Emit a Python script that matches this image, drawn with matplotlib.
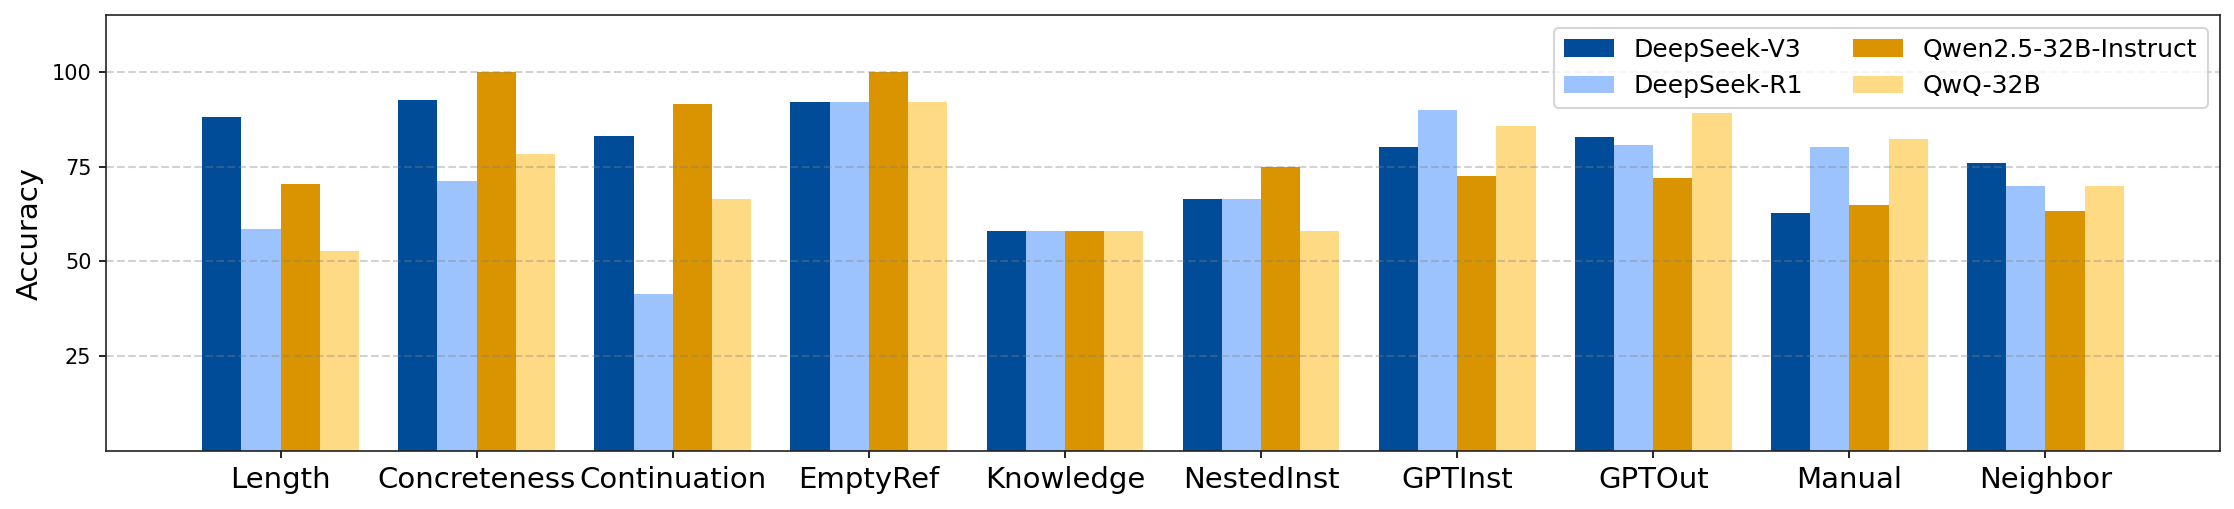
import numpy as np
import matplotlib as mpl

mpl.use("agg")

import matplotlib.pyplot as plt

categories = ['Length', 'Concreteness', 'Continuation', 'EmptyRef', 'Knowledge',
              'NestedInst', 'GPTInst', 'GPTOut', 'Manual', 'Neighbor']
models = ['DeepSeek-V3', 'DeepSeek-R1', 'Qwen2.5-32B-Instruct', 'QwQ-32B']

deepseek_v3 = [88.1, 92.6, 83.1, 92.1, 58.0, 66.5, 80.2, 82.8, 62.8, 76.0]
deepseek_r1 = [58.5, 71.2, 41.4, 92.1, 58.0, 66.5, 90.0, 80.7, 80.2, 69.9]
qwen_instruct = [70.4, 100.0, 91.5, 100.0, 58.0, 75.0, 72.5, 72.0, 64.9, 63.3]
qwq_32b = [52.7, 78.3, 66.5, 92.1, 58.0, 58.0, 85.7, 89.2, 82.3, 69.9]

colors = ['#004c99', '#9dc3fe', '#d99400', '#ffda85']

series = [deepseek_v3, deepseek_r1, qwen_instruct, qwq_32b]

fig = plt.figure(figsize=(2234 / 150, 509 / 150), dpi=150)
ax = fig.add_axes([106 / 2234, 1 - 451 / 509, (2220 - 106) / 2234, (451 - 15) / 509])

x = np.arange(len(categories))
width = 0.2
for i, (vals, name) in enumerate(zip(series, models)):
    ax.bar(x + (i - 1.5) * width, vals, width, label=name, color=colors[i])

ax.set_xticks(x)
ax.set_xticklabels(categories, fontsize=14)
ax.set_yticks([25, 50, 75, 100])
ax.tick_params(axis='y', labelsize=10)
ax.set_ylabel('Accuracy', fontsize=14)
ax.set_ylim(0, 115)
ax.grid(axis='y', linestyle='--', color='gray', alpha=0.35, linewidth=1)
for s in ax.spines.values():
    s.set_color('#222222')

ax.legend(loc='upper right', ncol=2, fontsize=12)

fig.savefig('out.png', dpi=150)
